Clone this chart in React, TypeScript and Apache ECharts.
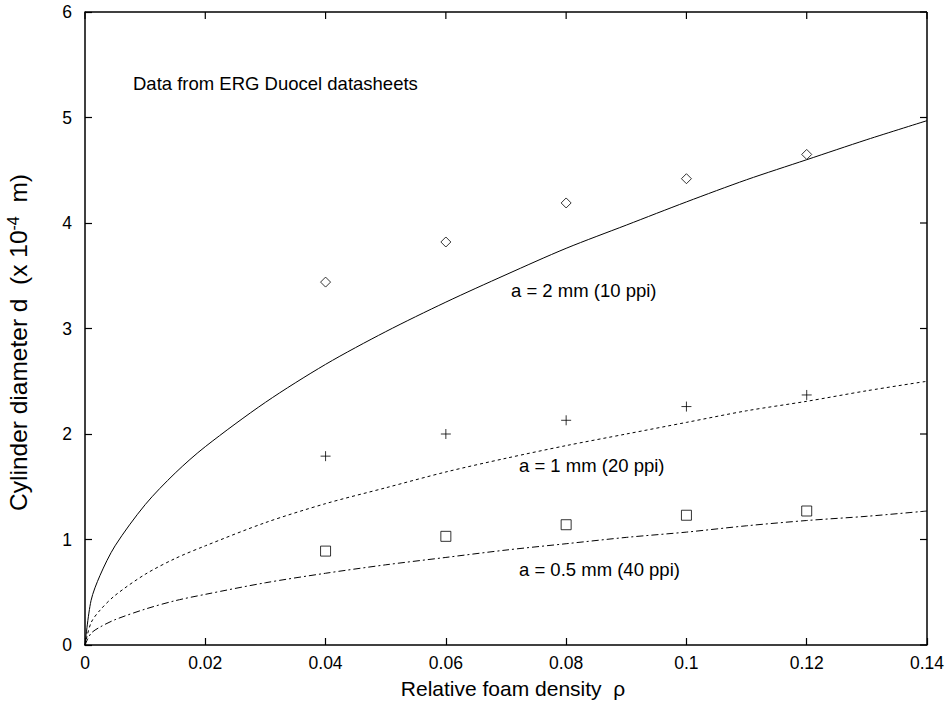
import React, { useEffect, useRef } from "react";
import * as echarts from "echarts";

const curveRho = [0, 0.001, 0.0025, 0.005, 0.01, 0.015, 0.02, 0.03, 0.04, 0.05, 0.06, 0.07, 0.08, 0.09, 0.1, 0.11, 0.12, 0.13, 0.14];
const curve2mm = [0, 0.42, 0.66, 0.94, 1.33, 1.63, 1.88, 2.3, 2.66, 2.97, 3.25, 3.51, 3.76, 3.98, 4.2, 4.41, 4.6, 4.79, 4.97];
const curve1mm = [0, 0.21, 0.33, 0.47, 0.67, 0.82, 0.94, 1.16, 1.34, 1.49, 1.64, 1.77, 1.89, 2.0, 2.11, 2.22, 2.31, 2.41, 2.5];
const curve05mm = [0, 0.11, 0.17, 0.24, 0.34, 0.42, 0.48, 0.59, 0.68, 0.76, 0.83, 0.9, 0.96, 1.02, 1.07, 1.13, 1.18, 1.22, 1.27];

const dataRho = [0.04, 0.06, 0.08, 0.1, 0.12];
const data10ppi = [3.44, 3.82, 4.19, 4.42, 4.65];
const data20ppi = [1.79, 2.0, 2.13, 2.26, 2.37];
const data40ppi = [0.89, 1.03, 1.14, 1.23, 1.27];

const xTicks = [0, 0.02, 0.04, 0.06, 0.08, 0.1, 0.12, 0.14];
const yTicks = [0, 1, 2, 3, 4, 5, 6];

const FONT = "Liberation Sans, Arial, Helvetica, sans-serif";

const zip = (xs: number[], ys: number[]) => xs.map((x, i) => [x, ys[i]]);

export default function App() {
  const ref = useRef<HTMLDivElement>(null);
  useEffect(() => {
    if (!ref.current) return;
    const chart = echarts.init(ref.current, null, { renderer: "svg" });
    const xMin = xTicks[0];
    const xMax = xTicks[xTicks.length - 1];
    const yMin = yTicks[0];
    const yMax = yTicks[yTicks.length - 1];
    const mkLine = () => ({ show: true, onZero: false, lineStyle: { color: "#000", width: 1.5 } });
    const mkTick = () => ({ show: true, inside: true, length: 7, lineStyle: { color: "#000", width: 1.2 } });
    const textEls = [
      { type: "text", left: 133, top: 74, style: { text: "Data from ERG Duocel datasheets", fill: "#000", font: `18.5px ${FONT}` } },
      { type: "text", left: 511, top: 281, style: { text: "a = 2 mm (10 ppi)", fill: "#000", font: `18.5px ${FONT}` } },
      { type: "text", left: 519, top: 456, style: { text: "a = 1 mm (20 ppi)", fill: "#000", font: `18.5px ${FONT}` } },
      { type: "text", left: 519, top: 560, style: { text: "a = 0.5 mm (40 ppi)", fill: "#000", font: `18.5px ${FONT}` } },
    ];
    chart.setOption({
      animation: false,
      grid: { left: 85, right: 21, top: 12, bottom: 66, outerBoundsMode: "none" },
      xAxis: {
        type: "value",
        min: xMin,
        max: xMax,
        interval: 0.02,
        axisLine: mkLine(),
        axisTick: mkTick(),
        splitLine: { show: false },
        axisLabel: { color: "#000", fontSize: 17.5, fontFamily: FONT, margin: 9 },
        name: "Relative foam density  ρ",
        nameLocation: "middle",
        nameGap: 33,
        nameTextStyle: { color: "#000", fontSize: 21, fontFamily: FONT, padding: [0, 0, 0, 14] },
      },
      yAxis: {
        type: "value",
        min: yMin,
        max: yMax,
        interval: 1,
        axisLine: mkLine(),
        axisTick: mkTick(),
        splitLine: { show: false },
        axisLabel: { color: "#000", fontSize: 17.5, fontFamily: FONT, margin: 13 },
        name: "{n|Cylinder diameter d  (x 10}{s|-4}{n|  m)}",
        nameLocation: "middle",
        nameGap: 53,
        nameRotate: 90,
        nameTextStyle: {
          padding: [0, 28, 0, 0],
          rich: {
            n: { color: "#000", fontSize: 24.5, fontFamily: FONT },
            s: { color: "#000", fontSize: 16, fontFamily: FONT, verticalAlign: "top", padding: [0, 0, 11, 0] },
          },
        },
      },
      series: [
        {
          name: "a = 2 mm",
          type: "line",
          data: zip(curveRho, curve2mm),
          showSymbol: false,
          smooth: 0.3,
          lineStyle: { color: "#000", width: 1, type: "solid" },
          z: 2,
        },
        {
          name: "a = 1 mm",
          type: "line",
          data: zip(curveRho, curve1mm),
          showSymbol: false,
          smooth: 0.3,
          lineStyle: { color: "#000", width: 1, type: [3, 3] },
          z: 2,
        },
        {
          name: "a = 0.5 mm",
          type: "line",
          data: zip(curveRho, curve05mm),
          showSymbol: false,
          smooth: 0.3,
          lineStyle: { color: "#000", width: 1, type: [7, 3, 2, 3] },
          z: 2,
        },
        {
          name: "10 ppi data",
          type: "scatter",
          data: zip(dataRho, data10ppi),
          symbol: "diamond",
          symbolSize: [10, 10],
          itemStyle: { color: "#fff", borderColor: "#000", borderWidth: 1 },
          z: 3,
        },
        {
          name: "20 ppi data",
          type: "scatter",
          data: zip(dataRho, data20ppi),
          symbol: "path://M5,0L5,10M0,5L10,5",
          symbolSize: [10, 10],
          itemStyle: { color: "none", borderColor: "#000", borderWidth: 1 },
          z: 3,
        },
        {
          name: "40 ppi data",
          type: "scatter",
          data: zip(dataRho, data40ppi),
          symbol: "rect",
          symbolSize: [10, 10],
          itemStyle: { color: "#fff", borderColor: "#000", borderWidth: 1 },
          z: 3,
        },
      ],
      graphic: textEls,
    });

    // Frame (top and right sides) with inward ticks, placed through the chart's own scales
    const px = (x: number, y: number) => chart.convertToPixel({ gridIndex: 0 }, [x, y]) as number[];
    const tl = px(xMin, yMax);
    const tr = px(xMax, yMax);
    const br = px(xMax, yMin);
    const frameEls: any[] = [
      { type: "line", z: 100, shape: { x1: tl[0], y1: tl[1], x2: tr[0], y2: tr[1] }, style: { stroke: "#000", lineWidth: 1.5 } },
      { type: "line", z: 100, shape: { x1: tr[0], y1: tr[1], x2: br[0], y2: br[1] }, style: { stroke: "#000", lineWidth: 1.5 } },
    ];
    xTicks.forEach((x) => {
      const p = px(x, yMax);
      frameEls.push({ type: "line", z: 100, shape: { x1: p[0], y1: p[1], x2: p[0], y2: p[1] + 7 }, style: { stroke: "#000", lineWidth: 1.2 } });
    });
    yTicks.forEach((y) => {
      const p = px(xMax, y);
      frameEls.push({ type: "line", z: 100, shape: { x1: p[0], y1: p[1], x2: p[0] - 7, y2: p[1] }, style: { stroke: "#000", lineWidth: 1.2 } });
    });
    chart.setOption({ graphic: [...textEls, ...frameEls] });

    return () => chart.dispose();
  }, []);
  return <div ref={ref} style={{ width: 948, height: 711, position: "absolute", left: 0, top: 0, background: "#fff" }} />;
}
